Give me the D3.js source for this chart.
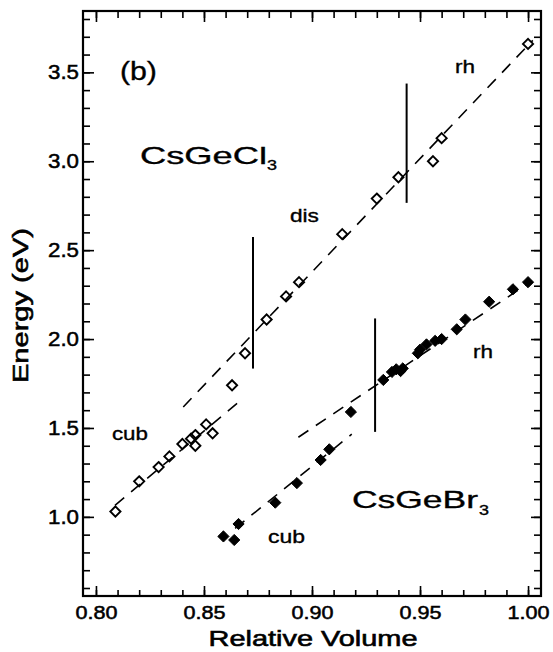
<!DOCTYPE html>
<html>
<head>
<meta charset="utf-8">
<script src="https://cdn.jsdelivr.net/npm/d3@7"></script>
<style>
  html, body { margin: 0; padding: 0; background: #fff; }
  svg { display: block; }
  text { font-family: "Liberation Sans", Arial, Helvetica, sans-serif; fill: #000; }
</style>
</head>
<body>
<svg id="chart" width="553" height="652"></svg>
<script>
// ---------------- data ----------------
// CsGeCl3 (open diamonds)
const clVolume = [0.809, 0.820, 0.829, 0.834, 0.840, 0.844, 0.846, 0.846, 0.851, 0.854, 0.863,
                  0.869, 0.879, 0.888, 0.894, 0.914, 0.930, 0.940, 0.956, 0.960, 1.000];
const clEnergy = [1.03, 1.20, 1.28, 1.34, 1.41, 1.44, 1.46, 1.40, 1.52, 1.47, 1.74,
                  1.92, 2.11, 2.24, 2.32, 2.59, 2.79, 2.91, 3.00, 3.13, 3.66];
// CsGeBr3 (filled diamonds)
const brVolume = [0.859, 0.864, 0.866, 0.883, 0.893, 0.904, 0.908, 0.918,
                  0.933, 0.937, 0.939, 0.941, 0.942, 0.949, 0.950, 0.953, 0.957, 0.960,
                  0.967, 0.971, 0.982, 0.993, 1.000];
const brEnergy = [0.89, 0.87, 0.96, 1.08, 1.19, 1.32, 1.38, 1.59,
                  1.77, 1.815, 1.83, 1.82, 1.835, 1.92, 1.94, 1.97, 1.99, 2.00,
                  2.055, 2.11, 2.21, 2.28, 2.32];
// dashed fit lines [volume, energy] end points
const clCubFit   = [[0.8088, 1.065], [0.8675, 1.660]];
const clDisRhFit = [[0.8404, 1.618], [1.0022, 3.680]];
const brCubFit   = [[0.8644, 0.935], [0.9184, 1.465]];
const brRhFit    = [[0.8937, 1.448], [1.0018, 2.327]];
// phase boundaries: [volume, energyLow, energyHigh]
const phaseBounds = [[0.8727, 1.834, 2.574], [0.9438, 2.766, 3.437], [0.9292, 1.478, 2.116]];
// axis ticks
const xMajorTicks = [0.80, 0.85, 0.90, 0.95, 1.00];
const xMinorTicks = [0.80, 0.81, 0.82, 0.83, 0.84, 0.85, 0.86, 0.87, 0.88, 0.89, 0.90,
                     0.91, 0.92, 0.93, 0.94, 0.95, 0.96, 0.97, 0.98, 0.99, 1.00];
const yMajorTicks = [1.0, 1.5, 2.0, 2.5, 3.0, 3.5];
const yMinorTicks = [0.6, 0.7, 0.8, 0.9, 1.0, 1.1, 1.2, 1.3, 1.4, 1.5, 1.6, 1.7, 1.8, 1.9,
                     2.0, 2.1, 2.2, 2.3, 2.4, 2.5, 2.6, 2.7, 2.8, 2.9, 3.0, 3.1, 3.2, 3.3,
                     3.4, 3.5, 3.6, 3.7, 3.8];
const xLabel = "Relative Volume";
const yLabel = "Energy (eV)";

// ---------------- layout ----------------
const svg = d3.select("#chart");
const L = 83, R = 541, T = 11, B = 596;
const x = d3.scaleLinear().domain([0.794, 1.006]).range([L, R]);
const y = d3.scaleLinear().domain([0.555, 3.845]).range([B, T]);

function stretch(sel, len) {
  sel.attr("textLength", len).attr("lengthAdjust", "spacingAndGlyphs");
}
function heavy(sel, w) {
  sel.attr("stroke", "#000").attr("stroke-width", w).attr("paint-order", "stroke");
}

// ---------------- axes ----------------
const fmt2 = d3.format(".2f"), fmt1 = d3.format(".1f");

// bottom
svg.append("g").attr("transform", `translate(0,${B})`)
  .call(d3.axisBottom(x).tickValues(xMinorTicks).tickSize(-6).tickFormat(""))
  .call(g => g.select(".domain").remove());
const gx = svg.append("g").attr("transform", `translate(0,${B})`)
  .call(d3.axisBottom(x).tickValues(xMajorTicks).tickSize(-10).tickPadding(10).tickFormat(fmt2))
  .call(g => g.select(".domain").remove());
gx.selectAll("text").attr("font-size", 18).attr("font-family", "Liberation Sans, Arial, sans-serif")
  .attr("fill", "#000").call(s => stretch(s, 42)).call(s => heavy(s, 0.5));
// top
svg.append("g").attr("transform", `translate(0,${T})`)
  .call(d3.axisTop(x).tickValues(xMinorTicks).tickSize(-7).tickFormat(""))
  .call(g => g.select(".domain").remove());
svg.append("g").attr("transform", `translate(0,${T})`)
  .call(d3.axisTop(x).tickValues(xMajorTicks).tickSize(-11).tickFormat(""))
  .call(g => g.select(".domain").remove());
// left
svg.append("g").attr("transform", `translate(${L},0)`)
  .call(d3.axisLeft(y).tickValues(yMinorTicks).tickSize(-7).tickFormat(""))
  .call(g => g.select(".domain").remove());
const gy = svg.append("g").attr("transform", `translate(${L},0)`)
  .call(d3.axisLeft(y).tickValues(yMajorTicks).tickSize(-11).tickPadding(4).tickFormat(fmt1))
  .call(g => g.select(".domain").remove());
gy.selectAll("text").attr("font-size", 20).attr("font-family", "Liberation Sans, Arial, sans-serif")
  .attr("fill", "#000").call(s => stretch(s, 31)).call(s => heavy(s, 0.5));
// right
svg.append("g").attr("transform", `translate(${R},0)`)
  .call(d3.axisRight(y).tickValues(yMinorTicks).tickSize(-7).tickFormat(""))
  .call(g => g.select(".domain").remove());
svg.append("g").attr("transform", `translate(${R},0)`)
  .call(d3.axisRight(y).tickValues(yMajorTicks).tickSize(-10).tickFormat(""))
  .call(g => g.select(".domain").remove());

svg.selectAll(".tick line").attr("stroke", "#000").attr("stroke-width", 1.6);

// frame
svg.append("rect").attr("x", L).attr("y", T).attr("width", R - L).attr("height", B - T)
  .attr("fill", "none").attr("stroke", "#000").attr("stroke-width", 2.2);

// ---------------- fit lines ----------------
const line = d3.line().x(d => x(d[0])).y(d => y(d[1]));
[clCubFit, clDisRhFit, brCubFit, brRhFit].forEach(f => {
  svg.append("path").attr("d", line(f)).attr("fill", "none").attr("stroke", "#000")
    .attr("stroke-width", 1.6).attr("stroke-dasharray", "12,9");
});

// phase boundaries
svg.selectAll("line.phase").data(phaseBounds).join("line").attr("class", "phase")
  .attr("x1", d => x(d[0])).attr("x2", d => x(d[0]))
  .attr("y1", d => y(d[1])).attr("y2", d => y(d[2]))
  .attr("stroke", "#000").attr("stroke-width", 2);

// ---------------- markers ----------------
const diamondOpen = d3.symbol().type(d3.symbolDiamond2).size(66);
const diamondFilled = d3.symbol().type(d3.symbolDiamond2).size(80);
svg.selectAll("path.cl").data(clVolume.map((v, i) => [v, clEnergy[i]])).join("path")
  .attr("class", "cl").attr("d", diamondOpen)
  .attr("transform", d => `translate(${x(d[0])},${y(d[1])})`)
  .attr("fill", "none").attr("stroke", "#000").attr("stroke-width", 1.9);
svg.selectAll("path.br").data(brVolume.map((v, i) => [v, brEnergy[i]])).join("path")
  .attr("class", "br").attr("d", diamondFilled)
  .attr("transform", d => `translate(${x(d[0])},${y(d[1])})`)
  .attr("fill", "#000").attr("stroke", "#000").attr("stroke-width", 1);

// ---------------- annotations ----------------
function label(txt, v, e, size, len) {
  const t = svg.append("text").attr("x", x(v)).attr("y", y(e)).attr("font-size", size).text(txt);
  if (len) stretch(t, len);
  heavy(t, 0.35);
  return t;
}
label("(b)", 0.8111, 3.455, 25, 37);
label("CsGeCl", 0.8204, 2.983, 24, 127);
label("3", 0.9787, 1.0, 15, 10).attr("x", x(0.8204) + 127).attr("y", y(2.983) + 6);
label("CsGeBr", 0.9185, 1.049, 24, 126);
label("3", 0.9778, 1.0, 15, 10).attr("x", x(0.9185) + 127).attr("y", y(1.049) + 7);
label("dis", 0.8898, 2.657, 18, 29);
label("rh", 0.9662, 3.495, 18, 20);
label("rh", 0.9745, 1.892, 18, 20);
label("cub", 0.8074, 1.431, 18, 36);
label("cub", 0.8796, 0.852, 18, 37);

// axis titles
svg.append("text").attr("x", (L + R) / 2 + 1).attr("y", 646).attr("text-anchor", "middle")
  .attr("font-size", 22).text(xLabel).call(s => stretch(s, 209)).call(s => heavy(s, 0.6));
svg.append("text").attr("transform", `translate(28,${(T + B) / 2 + 2}) rotate(-90)`)
  .attr("text-anchor", "middle").attr("font-size", 22).text(yLabel)
  .call(s => stretch(s, 155)).call(s => heavy(s, 0.6));
</script>
</body>
</html>
